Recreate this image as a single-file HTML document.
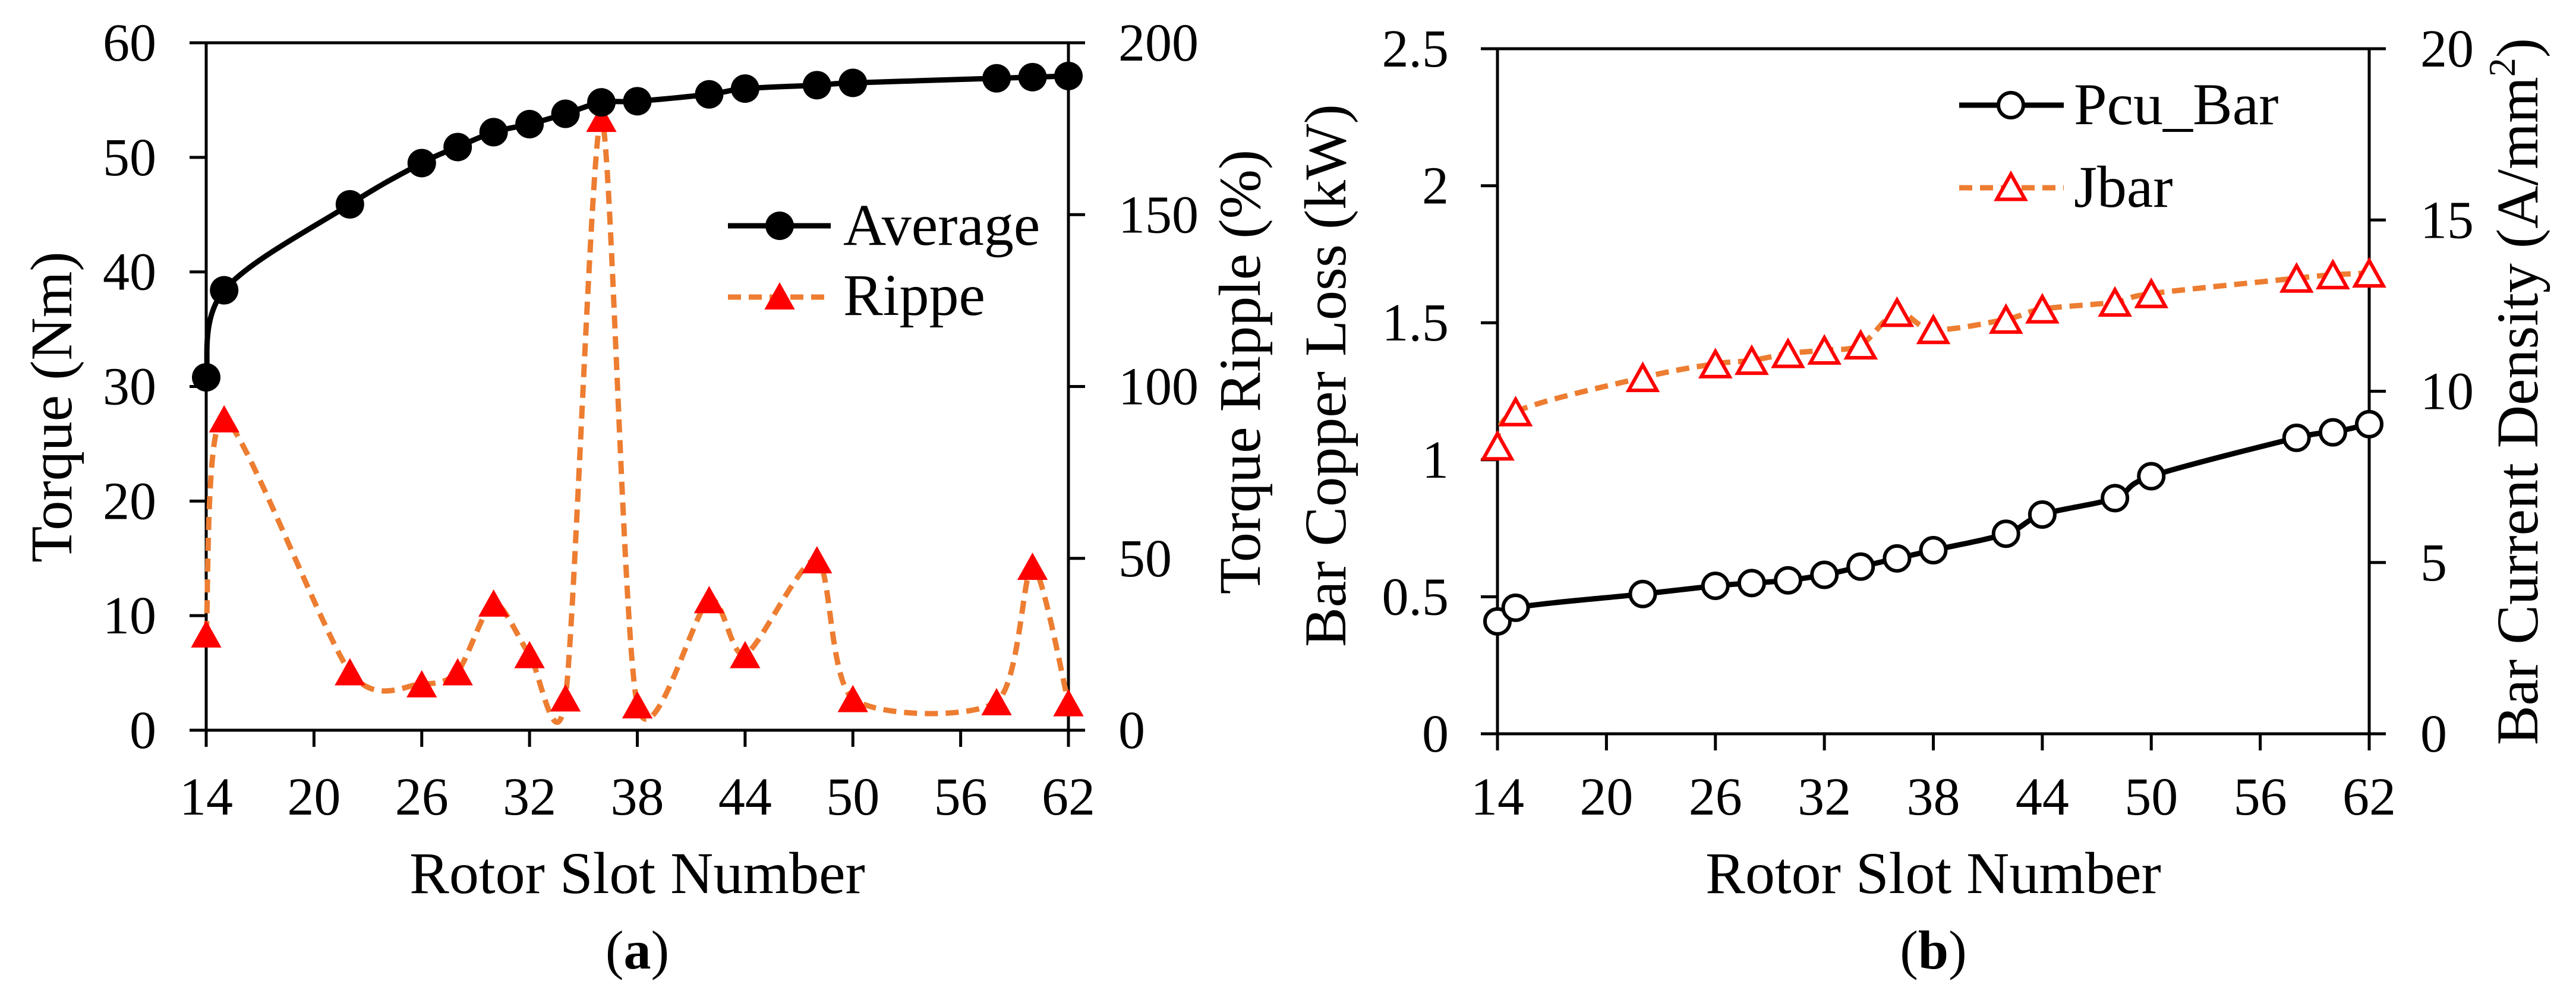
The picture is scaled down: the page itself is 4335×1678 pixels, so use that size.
<!DOCTYPE html>
<html><head><meta charset="utf-8"><style>
html,body{margin:0;padding:0;background:#fff}
svg{display:block;font-family:"Liberation Serif","Noto Serif CJK SC","DejaVu Serif",serif}
svg text{font-family:"Liberation Serif","Noto Serif CJK SC","DejaVu Serif",serif;fill:#000}
</style></head><body>
<svg id="s" width="4335" height="1678" viewBox="0 0 4335 1678" xmlns="http://www.w3.org/2000/svg"></svg>
<script>
const slots = [14,15,22,26,28,30,32,34,36,38,42,44,48,50,58,60,62];
const avgTorque = [30.8,38.4,45.9,49.5,50.9,52.2,52.9,53.8,54.8,54.9,55.5,56.0,56.3,56.5,56.9,57.0,57.1];
const ripple = [28,90.6,17,13.5,17,37,22,9.4,178,7.4,38,22,49.6,9.2,8.3,47.7,8];
const pcuBar = [0.41,0.46,0.51,0.54,0.55,0.56,0.58,0.61,0.64,0.67,0.73,0.80,0.86,0.94,1.08,1.10,1.13];
const jbar = [8.4,9.4,10.4,10.8,10.9,11.1,11.2,11.35,12.3,11.8,12.1,12.4,12.6,12.85,13.3,13.4,13.45];
const xTicks = [14,20,26,32,38,44,50,56,62];
const aLeftTicks = [0,10,20,30,40,50,60];
const aRightTicks = [0,50,100,150,200];
const bLeftTicks = [0,0.5,1,1.5,2,2.5];
const bLeftLabels = ["0","0.5","1","1.5","2","2.5"];
const bRightTicks = [0,5,10,15,20];

const NS="http://www.w3.org/2000/svg";
const FONT='"Liberation Serif","Noto Serif CJK SC","DejaVu Serif",serif';
const svg=document.getElementById('s');
function mk(tag,attrs,parent){const e=document.createElementNS(NS,tag);for(const k in attrs)e.setAttribute(k,attrs[k]);(parent||svg).appendChild(e);return e;}
function txt(s,x,y,size,anchor,parent){const t=mk('text',{x:x,y:y,'font-size':size,'text-anchor':anchor,'font-family':FONT},parent);t.textContent=s;return t;}
function spline(pts,t){
  t=t||1/6;
  let d=`M${pts[0][0]},${pts[0][1]}`;
  for(let i=0;i<pts.length-1;i++){
    const p0=pts[Math.max(0,i-1)],p1=pts[i],p2=pts[i+1],p3=pts[Math.min(pts.length-1,i+2)];
    const c1=[p1[0]+(p2[0]-p0[0])*t,p1[1]+(p2[1]-p0[1])*t];
    const c2=[p2[0]-(p3[0]-p1[0])*t,p2[1]-(p3[1]-p1[1])*t];
    d+=` C${c1[0]},${c1[1]} ${c2[0]},${c2[1]} ${p2[0]},${p2[1]}`;
  }
  return d;
}
function tri(g,cx,cy,r,fill,stroke,sw){
  return mk('polygon',{points:`${cx},${cy-r} ${cx+r*0.95},${cy+r*0.7} ${cx-r*0.95},${cy+r*0.7}`,fill:fill,stroke:stroke,'stroke-width':sw},g);
}

function chart(cfg){
  const g=mk('g',{});
  
  
  const L=cfg.L,R=cfg.R,T=cfg.T,B=cfg.B;
  const xs=v=>L+(v-14)/48*(R-L);
  const yl=v=>B-(v-cfg.lmin)/(cfg.lmax-cfg.lmin)*(B-T);
  const yr=v=>B-(v-cfg.rmin)/(cfg.rmax-cfg.rmin)*(B-T);
  const frame=mk('rect',{x:L,y:T,width:R-L,height:B-T,fill:'none',stroke:'#000','stroke-width':5},g);
  
  xTicks.forEach(v=>{
    mk('line',{x1:xs(v),x2:xs(v),y1:B,y2:B+28,stroke:'#000','stroke-width':5},g);
    const t=txt(String(v),xs(v),1371,90,'middle',g);
    
  });
  cfg.lt.forEach((v,i)=>{
    mk('line',{x1:L-28,x2:L,y1:yl(v),y2:yl(v),stroke:'#000','stroke-width':5},g);
    const t=txt(cfg.ltl?cfg.ltl[i]:String(v),cfg.lx,yl(v)+30,90,'end',g);
    
  });
  cfg.rt.forEach(v=>{
    mk('line',{x1:R,x2:R+28,y1:yr(v),y2:yr(v),stroke:'#000','stroke-width':5},g);
    const t=txt(String(v),cfg.rx,yr(v)+30,90,'start',g);
    
  });
  const xt=txt('Rotor Slot Number',(L+R)/2,1503,100,'middle',g);
  
  const cap=mk('text',{x:(L+R)/2,y:1630,'font-size':92,'text-anchor':'middle','font-family':FONT},g);
  cap.innerHTML='(<tspan font-weight="bold">'+cfg.cap+'</tspan>)';
  
  const lt=mk('text',{x:0,y:0,'font-size':100,'text-anchor':'middle','font-family':FONT,transform:`translate(${cfg.ltx},${cfg.lty}) rotate(-90)`},g);
  lt.textContent=cfg.ltitle;
  
  const rtt=mk('text',{x:0,y:0,'font-size':100,'text-anchor':'middle','font-family':FONT,transform:`translate(${cfg.rtx},${cfg.rty}) rotate(-90)`},g);
  rtt.innerHTML=cfg.rtitle;
  
  return {g,xs,yl,yr};
}

const A=chart({name:'torque-chart',L:347,R:1798,T:72,B:1229,lmin:0,lmax:60,rmin:0,rmax:200,lt:aLeftTicks,rt:aRightTicks,lx:263,rx:1882,
  cap:'a',ltitle:'Torque (Nm)',ltx:120,lty:685,rtitle:'Torque Ripple (%)',rtx:2120,rty:626});
const ripPts=slots.map((s,i)=>[A.xs(s),A.yr(ripple[i])]);
const rl=mk('path',{d:spline(ripPts,0.13),fill:'none',stroke:'#ED7D31','stroke-width':9,'stroke-dasharray':'22 13'},A.g);

const avPts=slots.map((s,i)=>[A.xs(s),A.yl(avgTorque[i])]);
const al=mk('path',{d:spline(avPts),fill:'none',stroke:'#000','stroke-width':9},A.g);

ripPts.forEach(p=>{const t=tri(A.g,p[0],p[1]+4,27,'#FF0000','none',0);
  });
avPts.forEach(p=>{const c=mk('circle',{cx:p[0],cy:p[1],r:24,fill:'#000'},A.g);
  });
const legA=mk('g',{},A.g);

mk('line',{x1:1225,x2:1398,y1:380,y2:380,stroke:'#000','stroke-width':9},legA);
mk('circle',{cx:1312,cy:380,r:24,fill:'#000'},legA);
txt('Average',1419,412,100,'start',legA);
mk('line',{x1:1225,x2:1398,y1:500,y2:500,stroke:'#ED7D31','stroke-width':9,'stroke-dasharray':'22 13'},legA);
tri(legA,1312,502,27,'#FF0000','none',0);
txt('Rippe',1419,530,100,'start',legA);

const Bc=chart({name:'copper-loss-chart',L:2520,R:3987,T:82,B:1235,lmin:0,lmax:2.5,rmin:0,rmax:20,lt:bLeftTicks,ltl:bLeftLabels,rt:bRightTicks,lx:2438,rx:4073,
  cap:'b',ltitle:'Bar Copper Loss (kW)',ltx:2264,lty:632,rtitle:'Bar Current Density (A/mm<tspan font-size="64" dy="-38">2</tspan><tspan dy="38">)</tspan>',rtx:4270,rty:659});
const jPts=slots.map((s,i)=>[Bc.xs(s),Bc.yr(jbar[i])]);
const jl=mk('path',{d:spline(jPts),fill:'none',stroke:'#ED7D31','stroke-width':9,'stroke-dasharray':'22 13'},Bc.g);

const pPts=slots.map((s,i)=>[Bc.xs(s),Bc.yl(pcuBar[i])]);
const pl=mk('path',{d:spline(pPts),fill:'none',stroke:'#000','stroke-width':9},Bc.g);

jPts.forEach(p=>{const t=tri(Bc.g,p[0],p[1]+4,25,'#fff','#FF0000',6);
  });
pPts.forEach(p=>{const c=mk('circle',{cx:p[0],cy:p[1],r:21,fill:'#fff',stroke:'#000','stroke-width':6},Bc.g);
  });
const legB=mk('g',{},Bc.g);

mk('line',{x1:3297,x2:3473,y1:177,y2:177,stroke:'#000','stroke-width':9},legB);
mk('circle',{cx:3384,cy:177,r:21,fill:'#fff',stroke:'#000','stroke-width':6},legB);
txt('Pcu_Bar',3490,209,100,'start',legB);
mk('line',{x1:3297,x2:3473,y1:316,y2:316,stroke:'#ED7D31','stroke-width':9,'stroke-dasharray':'22 13'},legB);
tri(legB,3384,318,25,'#fff','#FF0000',6);
txt('Jbar',3490,348,100,'start',legB);
</script>
</body></html>
